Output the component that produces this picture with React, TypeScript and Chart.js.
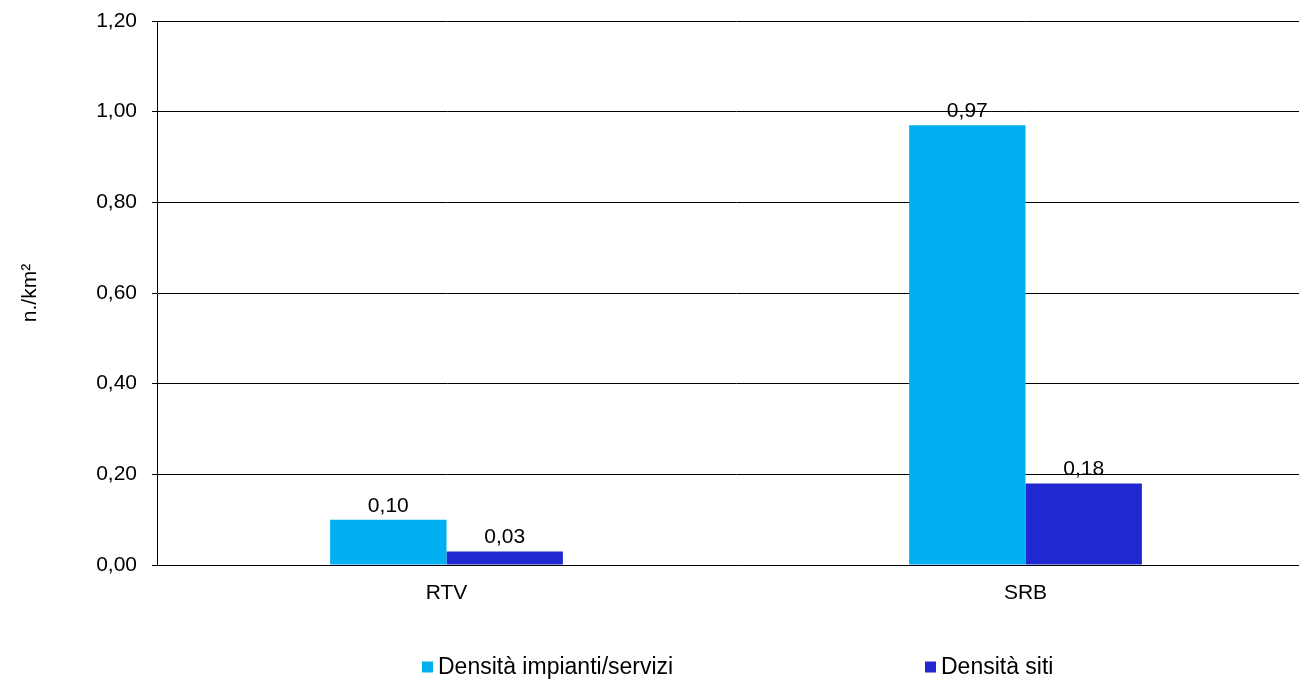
import React, { useEffect, useRef } from "react";
import { Chart, registerables } from "chart.js";

Chart.register(...registerables);

const categories = ["RTV", "SRB"];
const seriesNames = ["Densità impianti/servizi", "Densità siti"];
const impiantiValues = [0.1, 0.97];
const sitiValues = [0.03, 0.18];
const seriesColors = ["#00B0F0", "#2028D0"];
const yTicks = [0, 0.2, 0.4, 0.6, 0.8, 1.0, 1.2];
const yTitle = "n./km²";

const FONT = "'Liberation Sans', Arial, sans-serif";
const fmt = (v: number) => v.toFixed(2).replace(".", ",");

const dataLabelPlugin = {
  id: "dataLabels",
  afterDatasetsDraw(chart: any) {
    const ctx = chart.ctx;
    ctx.save();
    ctx.font = `21px ${FONT}`;
    ctx.fillStyle = "#000";
    ctx.textAlign = "center";
    ctx.textBaseline = "alphabetic";
    chart.data.datasets.forEach((ds: any, i: number) => {
      const meta = chart.getDatasetMeta(i);
      meta.data.forEach((bar: any, j: number) => {
        ctx.fillText(fmt(ds.data[j]), bar.x, bar.y - 8);
      });
    });
    ctx.restore();
  },
};

const legendPlugin = {
  id: "customLegend",
  afterDraw(chart: any, _args: any, opts: any) {
    const ctx = chart.ctx;
    ctx.save();
    ctx.font = `23px ${FONT}`;
    ctx.textBaseline = "middle";
    ctx.textAlign = "left";
    const y = opts.y;
    chart.data.datasets.forEach((ds: any, i: number) => {
      const x = opts.xs[i];
      ctx.fillStyle = ds.backgroundColor;
      ctx.fillRect(x, y - 5.5, 11, 11);
      ctx.fillStyle = "#000";
      ctx.fillText(ds.label, x + 16, y + 1);
    });
    ctx.restore();
  },
};

export default function App() {
  const ref = useRef<HTMLCanvasElement>(null);
  useEffect(() => {
    if (!ref.current) return;
    const chart = new Chart(ref.current, {
      type: "bar",
      data: {
        labels: categories,
        datasets: [
          { label: seriesNames[0], data: impiantiValues, backgroundColor: seriesColors[0] },
          { label: seriesNames[1], data: sitiValues, backgroundColor: seriesColors[1] },
        ],
      },
      plugins: [dataLabelPlugin, legendPlugin],
      options: {
        animation: false,
        responsive: false,
        maintainAspectRatio: false,
        layout: { padding: { top: 21, right: 0, bottom: 0, left: 0 } },
        datasets: { bar: { categoryPercentage: 0.402, barPercentage: 1 } },
        plugins: {
          legend: { display: false },
          tooltip: { enabled: false },
          customLegend: { y: 667, xs: [422, 925] },
        } as any,
        scales: {
          x: {
            grid: { display: false },
            border: { display: true, color: "#000", width: 1 },
            ticks: { color: "#000", font: { family: FONT, size: 21 }, padding: 8 },
            afterFit: (s: any) => { s.height = 115; s.paddingLeft = 0; s.paddingRight = 0; },
          },
          y: {
            min: 0,
            max: 1.2,
            afterBuildTicks: (s: any) => { s.ticks = yTicks.map((v) => ({ value: v })); },
            ticks: {
              color: "#000",
              font: { family: FONT, size: 21 },
              padding: 15,
              callback: (v: any) => fmt(Number(v)),
            },
            grid: { color: "#000", lineWidth: 1, drawTicks: true, tickLength: 5 },
            border: { display: true, color: "#000", width: 1 },
            title: {
              display: true,
              text: yTitle,
              color: "#000",
              font: { family: FONT, size: 21 },
              padding: { top: 18, bottom: 0 },
            },
            afterFit: (s: any) => { s.width = 157; s.paddingTop = 0; s.paddingBottom = 0; },
          },
        },
      },
    });
    return () => chart.destroy();
  }, []);
  return (
    <div style={{ position: "fixed", left: 0, top: 0, width: 1299, height: 680, overflow: "hidden", background: "#fff" }}>
      <canvas ref={ref} width={1315} height={680} style={{ display: "block", width: 1315, height: 680 }} />
    </div>
  );
}
